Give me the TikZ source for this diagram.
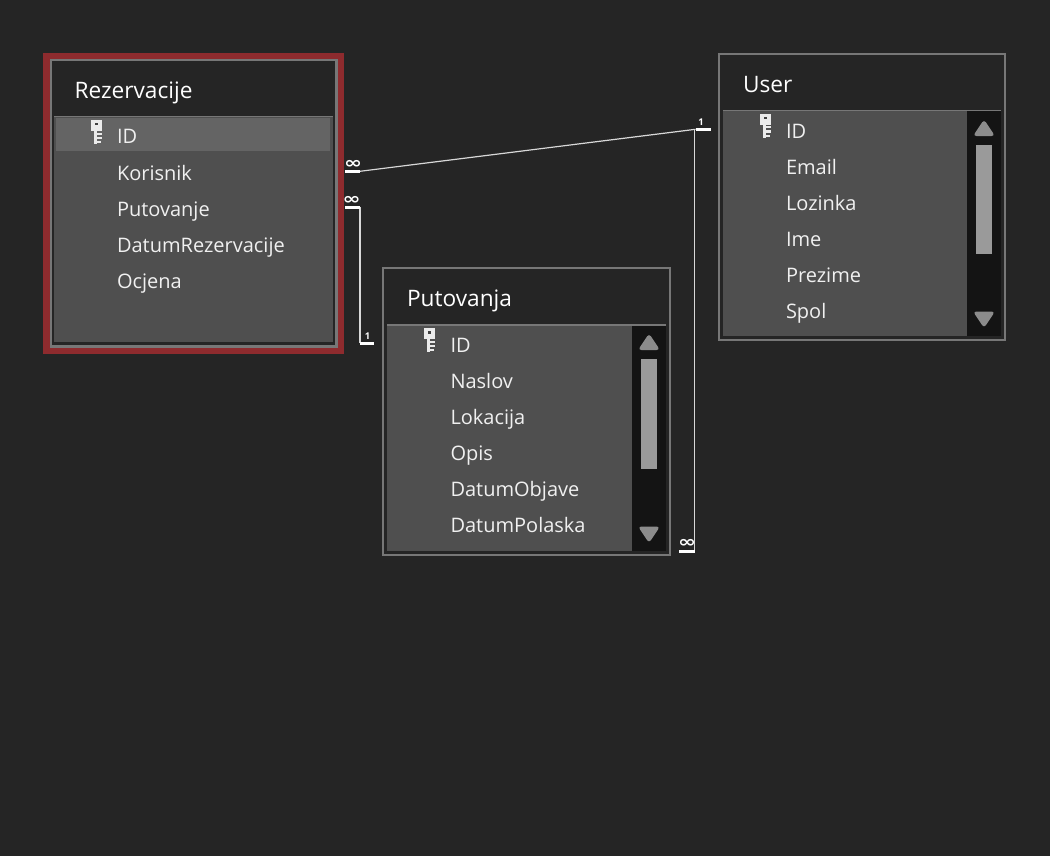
\documentclass[tikz,border=0pt]{standalone}
\usepackage{fontspec}
\setmainfont{Open Sans}
\definecolor{bgc}{HTML}{252525}
\definecolor{bodyc}{HTML}{4F4F4F}
\definecolor{framec}{HTML}{777777}
\definecolor{redc}{HTML}{8E2B2E}
\definecolor{selc}{HTML}{646464}
\definecolor{trackc}{HTML}{141414}
\definecolor{thumbc}{HTML}{9A9A9A}
\definecolor{arrowc}{HTML}{8C8C8C}
\definecolor{txtc}{HTML}{F0F0F0}
\definecolor{linec}{HTML}{D8D8D8}
\tikzset{
  x=0.75pt,y=-0.75pt,
  every node/.style={inner sep=0pt,outer sep=0pt},
  title/.style={anchor=base west,text=white,font=\fontsize{17pt}{18pt}\selectfont},
  rowt/.style={anchor=base west,text=txtc,font=\fontsize{15pt}{18pt}\selectfont},
  rel/.style={draw=linec,line width=0.9pt},
  bar/.style={draw=white,line width=2.4pt},
  mark1/.style={text=white,font=\bfseries\fontsize{7pt}{7pt}\selectfont},
  inf/.style={text=white,xscale=1.35,font=\fontspec{DejaVu Sans Bold}\fontsize{12pt}{8pt}\selectfont},
}
\newcommand{\keyicon}[2]{%
  \fill[white!92!black] (#1-5,#2-8) rectangle (#1+5.5,#2+3);
  \fill[white!92!black] (#1-2,#2+3) rectangle (#1+1,#2+16);
  \fill[white!92!black] (#1+1,#2+4.5) rectangle (#1+5.5,#2+6.5);
  \fill[white!92!black] (#1+1,#2+8.5) rectangle (#1+5.5,#2+10.5);
  \fill[white!92!black] (#1+1,#2+12.5) rectangle (#1+4.5,#2+14.5);
  \fill[black!75] (#1-1,#2-5) rectangle (#1+1.5,#2-2.5);
}
\newcommand{\scrollbar}[6]{% x0 x1 top bottom thumbtop thumbbottom
  \fill[trackc] (#1,#3) rectangle (#2,#4);
  \pgfmathsetmacro{\mx}{(#1+#2)/2}
  \fill[thumbc] (\mx-8,#5) rectangle (\mx+8,#6);
  \fill[arrowc,rounded corners=2.5pt] (\mx,#3+8) -- (\mx+11,#3+24.5) -- (\mx-11,#3+24.5) -- cycle;
  \fill[arrowc,rounded corners=2.5pt] (\mx,#4-8) -- (\mx+11,#4-24.5) -- (\mx-11,#4-24.5) -- cycle;
}
\begin{document}
\begin{tikzpicture}
\useasboundingbox (0,0) rectangle (1050,856);
\fill[bgc] (0,0) rectangle (1050,856);

% Rezervacije
\fill[redc] (43,53) rectangle (344,354);
\fill[framec] (49.5,59) rectangle (337.5,347.5);
\fill[bgc] (52,61.5) rectangle (334.5,345);
\fill[framec] (54,116) rectangle (332.5,117.5);
\fill[bodyc] (54,117.5) rectangle (332.5,342);
\fill[selc] (56,118.5) rectangle (330,151);
\node[title] (t1) at (74.5,98.5) {Rezervacije};
\keyicon{96}{128}
\node[rowt] (r11) at (117,143.5) {ID};
\node[rowt] (r12) at (117,180) {Korisnik};
\node[rowt] (r13) at (117,216) {Putovanje};
\node[rowt] (r14) at (117,252) {DatumRezervacije};
\node[rowt] (r15) at (117,288) {Ocjena};

% User
\fill[framec] (718,53) rectangle (1006,341);
\fill[bgc] (720.2,55.2) rectangle (1003.8,338.8);
\fill[framec] (723,110) rectangle (1001,111.5);
\fill[bodyc] (723,111.5) rectangle (967,336);
\scrollbar{967}{1001}{111.5}{336}{145}{254}
\node[title] (t2) at (743,92.5) {User};
\keyicon{765}{122}
\node[rowt] (r21) at (786,138) {ID};
\node[rowt] (r22) at (786,174) {Email};
\node[rowt] (r23) at (786,210) {Lozinka};
\node[rowt] (r24) at (786,246) {Ime};
\node[rowt] (r25) at (786,282) {Prezime};
\node[rowt] (r26) at (786,318) {Spol};

% Putovanja
\fill[framec] (382,267) rectangle (671,556);
\fill[bgc] (384.2,269.2) rectangle (668.8,553.8);
\fill[framec] (387,324) rectangle (666,325.5);
\fill[bodyc] (387,325.5) rectangle (632,551);
\scrollbar{632}{666}{325.5}{551}{359}{469}
\node[title] (t3) at (407,306) {Putovanja};
\keyicon{429}{336}
\node[rowt] (r31) at (450.5,352) {ID};
\node[rowt] (r32) at (450.5,388) {Naslov};
\node[rowt] (r33) at (450.5,424) {Lokacija};
\node[rowt] (r34) at (450.5,460.5) {Opis};
\node[rowt] (r35) at (450.5,496.5) {DatumObjave};
\node[rowt] (r36) at (450.5,532.5) {DatumPolaska};

% Relationships
\coordinate (a1) at (345,171.3);
\coordinate (a2) at (360,171.3);
\coordinate (b1) at (695.5,129.3);
\coordinate (b2) at (711,129.3);
\coordinate (c1) at (345,207.3);
\coordinate (c2) at (360,207.3);
\coordinate (d1) at (360,343.3);
\coordinate (d2) at (374,343.3);
\coordinate (e1) at (679,551.3);
\coordinate (e2) at (694.7,551.3);
\coordinate (f1) at (694.7,129.3);

\draw[rel] (a2) -- (b1);
\draw[rel] (c2) -- (d1);
\draw[rel] (e2) -- (f1);
\draw[bar] (a1) -- (a2);
\draw[bar] (b1) -- (b2);
\draw[bar] (c1) -- (c2);
\draw[bar,line width=1.9pt] (d1) -- (d2);
\draw[bar] (e1) -- (e2);
\node[inf] (i1) at (353,164) {∞};
\node[inf] (i2) at (351.5,200) {∞};
\node[inf] (i3) at (687,543.5) {∞};
\node[mark1] (o1) at (701,122) {1};
\node[mark1] (o2) at (367.5,336) {1};
\end{tikzpicture}
\end{document}
